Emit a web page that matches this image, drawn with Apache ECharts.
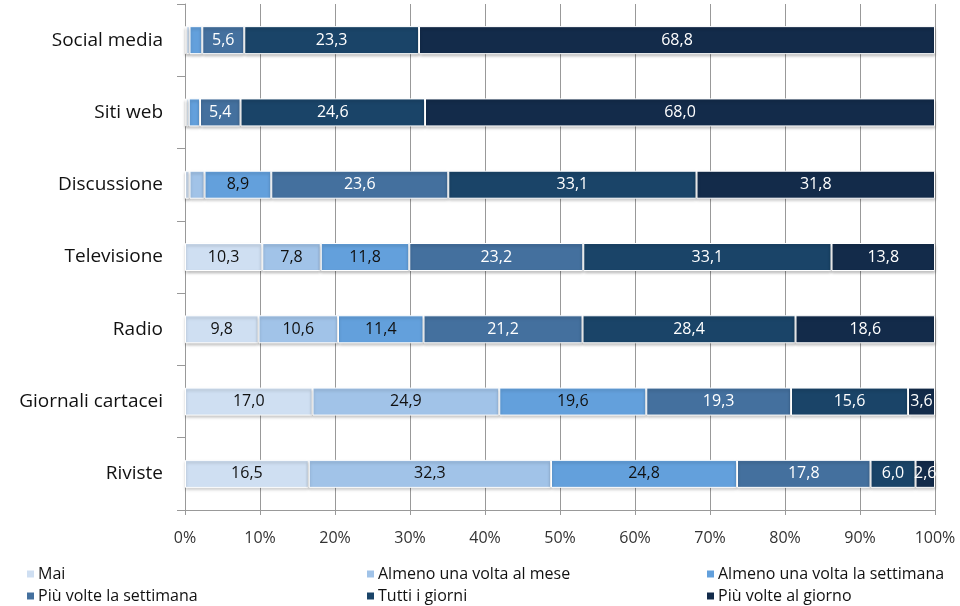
<!DOCTYPE html>
<html><head><meta charset="utf-8">
<script src="https://cdn.jsdelivr.net/npm/echarts@6/dist/echarts.min.js"></script>
<style>html,body{margin:0;padding:0;background:#fff}#c{width:960px;height:606px}</style>
</head><body><div id="c"></div>
<script>
const categories = ["Social media","Siti web","Discussione","Televisione","Radio","Giornali cartacei","Riviste"];
const seriesNames = ["Mai","Almeno una volta al mese","Almeno una volta la settimana","Più volte la settimana","Tutti i giorni","Più volte al giorno"];
const mai        = [0.2, 0.2, 0.6, 10.3, 9.8, 17.0, 16.5];
const mese       = [0.4, 0.3, 2.0, 7.8, 10.6, 24.9, 32.3];
const settimana  = [1.7, 1.5, 8.9, 11.8, 11.4, 19.6, 24.8];
const piuSett    = [5.6, 5.4, 23.6, 23.2, 21.2, 19.3, 17.8];
const tutti      = [23.3, 24.6, 33.1, 33.1, 28.4, 15.6, 6.0];
const piuGiorno  = [68.8, 68.0, 31.8, 13.8, 18.6, 3.6, 2.6];
const xTicks = [0,10,20,30,40,50,60,70,80,90,100];

const values = [mai, mese, settimana, piuSett, tutti, piuGiorno];
const colors = ["#cfdff2","#a1c3e8","#63a0dc","#44709e","#1a4468","#132b4a"];
const labelColors = ["#111111","#111111","#111111","#ffffff","#ffffff","#ffffff"];
const font = "'Open Sans',sans-serif";

const chart = echarts.init(document.getElementById('c'));
const series = seriesNames.map((n,i)=>({
  name:n, type:'bar', stack:'s', barWidth:28,
  data: values[i],
  itemStyle:{color:colors[i], borderColor:'#ffffff', borderWidth:1,
    shadowColor:'rgba(0,0,0,0.25)', shadowBlur:3, shadowOffsetY:2},
  label:{show:true, position:'inside', color:labelColors[i], fontFamily:font, fontSize:16,
    formatter:p=> p.value>=2.5 ? p.value.toFixed(1).replace('.',',') : ''},
  emphasis:{disabled:true}
}));
const legendPos = [[20,561],[360,561],[700,561],[20,583],[360,583],[700,583]];
const legends = seriesNames.map((n,i)=>({
  data:[n], left:legendPos[i][0], top:legendPos[i][1], itemWidth:9, itemHeight:9,
  itemGap:4, icon:'rect', textStyle:{fontFamily:font, fontSize:16, color:'#111', padding:[0,0,0,-2]}
}));
chart.setOption({
  animation:false,
  grid:{left:185, right:25, top:4, bottom:96},
  legend: legends,
  xAxis:{type:'value', min:0, max:100, interval:10,
    axisLabel:{formatter:v=>v+'%', fontFamily:font, fontSize:16, color:'#333', margin:20},
    axisLine:{show:true, lineStyle:{color:'#999'}},
    axisTick:{show:true, length:5, lineStyle:{color:'#999'}},
    splitLine:{show:true, lineStyle:{color:'#999', width:1}}},
  yAxis:{type:'category', data:categories, inverse:true,
    axisLabel:{fontFamily:font, fontSize:19, color:'#111', margin:22},
    axisLine:{show:true, lineStyle:{color:'#999'}},
    axisTick:{show:true, inside:false, length:8, lineStyle:{color:'#999'}}},
  series: series
});
</script></body></html>
